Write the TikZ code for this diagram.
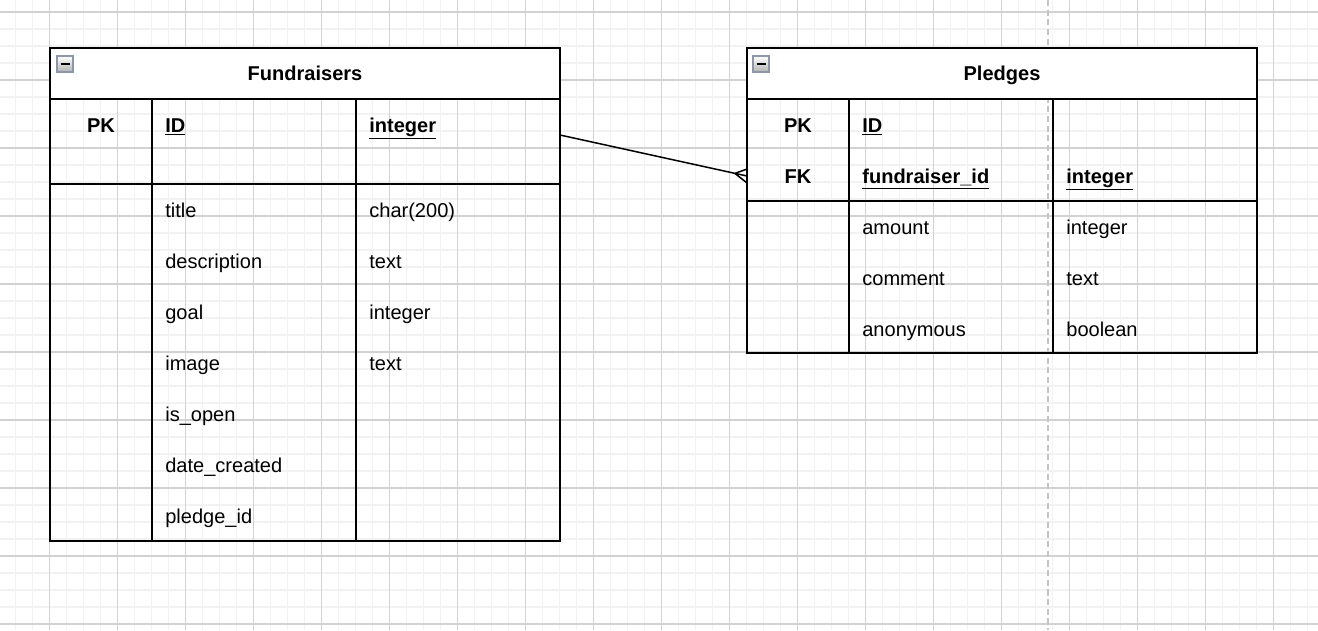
\documentclass[tikz,border=0pt]{standalone}
\usepackage{fontspec}
\setmainfont{Liberation Sans}
\pgfdeclarelayer{gridlayer}
\pgfdeclarelayer{edgelayer}
\pgfdeclarelayer{nodelayer}
\pgfsetlayers{gridlayer,edgelayer,main,nodelayer}
\definecolor{minorgrid}{HTML}{F2F2F2}
\definecolor{majorgrid}{HTML}{D2D2D2}
\definecolor{pagebreak}{HTML}{C4C4C4}
\definecolor{iconborder}{HTML}{8C96A8}
\tikzstyle{edge}=[draw=black, line width=0.85pt]
\tikzstyle{table}=[draw=black, line width=1.1pt]
\tikzstyle{header}=[fill=white, draw=black, line width=1.1pt]
\tikzstyle{icon}=[draw=iconborder, top color=white, bottom color=black!30, line width=0.7pt]
\tikzstyle{field}=[anchor=base west, inner sep=0pt, font=\fontsize{11.4}{13}\selectfont]
\tikzstyle{keyfield}=[anchor=base west, inner sep=0pt, font=\fontsize{11.4}{13}\selectfont\bfseries]
\tikzstyle{keytag}=[anchor=base, inner sep=0pt, font=\fontsize{11.4}{13}\selectfont\bfseries]
\tikzstyle{title}=[anchor=base, inner sep=0pt, font=\fontsize{11.4}{13}\selectfont\bfseries]

\begin{document}
\begin{tikzpicture}[x=0.02cm, y=-0.02cm]
				\useasboundingbox (0,0) rectangle (1318,630);
				\begin{pgfonlayer}{gridlayer}
					\fill[white] (0,0) rectangle (1318,630);
					\foreach \x in {15.5,32.5,...,1318} \draw[minorgrid, line width=0.6pt] (\x,0) -- (\x,630);
					\foreach \y in {12,29,...,630} \draw[minorgrid, line width=0.6pt] (0,\y) -- (1318,\y);
					\foreach \x in {49.5,117.5,...,1318} \draw[majorgrid, line width=0.6pt] (\x,0) -- (\x,630);
					\foreach \y in {12,80,...,630} \draw[majorgrid, line width=0.6pt] (0,\y) -- (1318,\y);
					\draw[pagebreak, line width=1pt, dash pattern=on 3.5pt off 2pt] (1048,0) -- (1048,630);
				\end{pgfonlayer}
				% Fundraisers table
				\draw[table] (50,48) rectangle (560,541);
				\draw[header] (50,48) rectangle (560,99);
				\draw[table] (152,99) -- (152,541);
				\draw[table] (356,99) -- (356,541);
				\draw[table] (50,184) -- (560,184);
				\draw[icon] (57,56) rectangle (73,72);
				\draw[line width=1.4pt] (60.5,64) -- (69.5,64);
				% Pledges table
				\draw[table] (747,48) rectangle (1257,353);
				\draw[header] (747,48) rectangle (1257,99);
				\draw[table] (849,99) -- (849,353);
				\draw[table] (1053,99) -- (1053,353);
				\draw[table] (747,201) -- (1257,201);
				\draw[icon] (753,56) rectangle (769,72);
				\draw[line width=1.4pt] (756.5,64) -- (765.5,64);
				\begin{pgfonlayer}{nodelayer}
					\node [style=title] (f0) at (305,80.5) {Fundraisers};
					\node [style=keytag] (f1) at (101,132) {PK};
					\node [style=keyfield] (f2) at (165,132) {\underline{ID}};
					\node [style=keyfield] (f3) at (369,132) {\underline{integer}};
					\node [style=field] (f4) at (165,217) {title};
					\node [style=field] (f5) at (165,268) {description};
					\node [style=field] (f6) at (165,319) {goal};
					\node [style=field] (f7) at (165,370) {image};
					\node [style=field] (f8) at (165,421) {is\_open};
					\node [style=field] (f9) at (165,472) {date\_created};
					\node [style=field] (f10) at (165,523) {pledge\_id};
					\node [style=field] (f11) at (369,217) {char(200)};
					\node [style=field] (f12) at (369,268) {text};
					\node [style=field] (f13) at (369,319) {integer};
					\node [style=field] (f14) at (369,370) {text};
					\node [style=title] (p0) at (1002,80.5) {Pledges};
					\node [style=keytag] (p1) at (798,132) {PK};
					\node [style=keyfield] (p2) at (862,132) {\underline{ID}};
					\node [style=keytag] (p3) at (798,183) {FK};
					\node [style=keyfield] (p4) at (862,183) {\underline{fundraiser\_id}};
					\node [style=keyfield] (p5) at (1066,183) {\underline{integer}};
					\node [style=field] (p6) at (862,234) {amount};
					\node [style=field] (p7) at (862,285) {comment};
					\node [style=field] (p8) at (862,336) {anonymous};
					\node [style=field] (p9) at (1066,234) {integer};
					\node [style=field] (p10) at (1066,285) {text};
					\node [style=field] (p11) at (1066,336) {boolean};
				\end{pgfonlayer}
				\begin{pgfonlayer}{edgelayer}
					\coordinate (r0) at (560,135);
					\coordinate (r1) at (747,176);
					\coordinate (r2) at (735,173.4);
					\coordinate (r3) at (747,169);
					\coordinate (r4) at (747,183);
					\draw [style=edge] (r0) to (r1);
					\draw [style=edge] (r2) to (r3);
					\draw [style=edge] (r2) to (r4);
				\end{pgfonlayer}
			\end{tikzpicture}
\end{document}
